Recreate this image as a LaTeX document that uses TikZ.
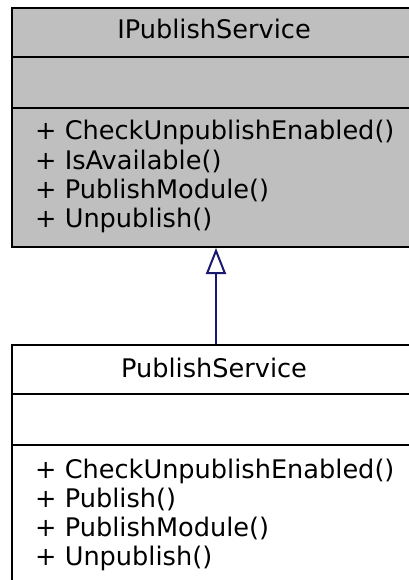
\documentclass[tikz,border=0pt]{standalone}
\usepackage{fontspec}
\setmainfont{DejaVu Sans}
\usetikzlibrary{arrows.meta}
\definecolor{boxgray}{HTML}{BFBFBF}
\definecolor{edgeblue}{HTML}{191970}
\begin{document}
\begin{tikzpicture}[x=1pt,y=-1pt,
  classbox/.style={draw=black,line width=2pt,minimum width=408pt,inner sep=0pt,anchor=north west},
  sepline/.style={draw=black,line width=2pt},
  title/.style={anchor=base,inner sep=0pt,font=\fontsize{25.6}{29}\selectfont},
  member/.style={anchor=base west,inner sep=0pt,font=\fontsize{25.6}{29}\selectfont},
  inherit/.style={draw=edgeblue,line width=2pt,-{Triangle[open,length=26pt,width=20pt,line width=2pt]}}]
\useasboundingbox (0,0) rectangle (408,580);
% top class
\node[classbox,fill=boxgray,minimum height=239pt] (ips) at (11,7) {};
\draw[sepline] (11,57) -- (419,57);
\draw[sepline] (11,108) -- (419,108);
\node[title] (ipsname) at (214,39) {IPublishService};
\node[member] (m1) at (35,140) {+ CheckUnpublishEnabled()};
\node[member] (m2) at (35,169) {+ IsAvailable()};
\node[member] (m3) at (35,198) {+ PublishModule()};
\node[member] (m4) at (35,227) {+ Unpublish()};
% bottom class
\node[classbox,fill=white,minimum height=260pt] (ps) at (11,344) {};
\draw[sepline] (11,394) -- (419,394);
\draw[sepline] (11,445) -- (419,445);
\node[title] (psname) at (214,377) {PublishService};
\node[member] (n1) at (35,478) {+ CheckUnpublishEnabled()};
\node[member] (n2) at (35,507) {+ Publish()};
\node[member] (n3) at (35,536) {+ PublishModule()};
\node[member] (n4) at (35,565) {+ Unpublish()};
% inheritance
\draw[inherit] (ps.north) -- (ips.south);
\end{tikzpicture}
\end{document}
